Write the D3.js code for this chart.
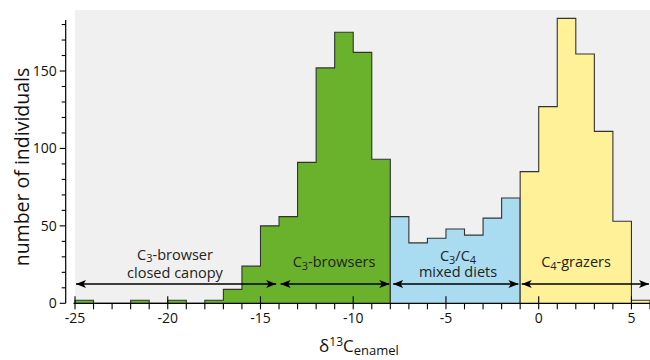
<!DOCTYPE html>
<html><head><meta charset="utf-8">
<script src="https://cdn.jsdelivr.net/npm/d3@7"></script>
<style>body{margin:0;background:#fff}svg{display:block;font-family:"Open Sans",sans-serif}</style>
</head><body>
<svg id="c" width="650" height="360"></svg>
<script>
// bin start values (1-unit bins) and counts
const greenStart = -25;
const greenCounts = [2,0,0,2,0,2,0,2,9,24,50,56,91,152,175,162,93];
const blueStart = -8;
const blueCounts = [56,39,42,48,44,55,68];
const yellowStart = -1;
const yellowCounts = [85,127,184,161,111,53,2];
const xMajorTicks = [-25,-20,-15,-10,-5,0,5];
const yMajorTicks = [0,50,100,150];
const groups = [
  {name:"green", start:greenStart, counts:greenCounts, fill:"#6ab22c"},
  {name:"blue", start:blueStart, counts:blueCounts, fill:"#a9dcf0"},
  {name:"yellow", start:yellowStart, counts:yellowCounts, fill:"#fef197"}
];
const arrows = [
  {from:-25, to:-14.1, lines:[[["C","3"],"-browser"],["closed canopy"]], cx:175, y:[259.5,277.5]},
  {from:-13.97, to:-8, lines:[[["C","3"],"-browsers"]], cx:334, y:[267.3]},
  {from:-7.9, to:-1.04, lines:[[["C","3"],"/",["C","4"]],["mixed diets"]], cx:458, y:[261,276.7]},
  {from:-0.97, to:6, lines:[[["C","4"],"-grazers"]], cx:576, y:[267.3]}
];

const svg = d3.select("#c");
const x = d3.scaleLinear().domain([-25,6]).range([75,650]);
const y = d3.scaleLinear().domain([0,183]).range([303.3,19.9]);

svg.append("rect").attr("x",x(-25)).attr("y",10).attr("width",x(6)-x(-25)).attr("height",y(0)-10).attr("fill","#f0f0f0");

const line = d3.line().x(d=>x(d[0])).y(d=>y(d[1]));
groups.forEach(g=>{
  const bins = g.counts.map((v,i)=>({x0:g.start+i, x1:g.start+i+1, v}));
  const pts = [[bins[0].x0,0]];
  bins.forEach(b=>{pts.push([b.x0,b.v]);pts.push([b.x1,b.v]);});
  pts.push([bins[bins.length-1].x1,0]);
  svg.append("path").attr("d",line(pts)+"Z").attr("fill",g.fill).attr("stroke","none");
  svg.append("path").attr("d",line(pts)).attr("fill","none").attr("stroke","#333").attr("stroke-width",1.1).attr("stroke-linejoin","miter");
});

// y axis
const ya = svg.append("g").attr("transform","translate(65.7,0)");
ya.append("line").attr("x1",0).attr("x2",0).attr("y1",y(183)).attr("y2",y(0)).attr("stroke","#000").attr("stroke-width",1.2);
ya.selectAll("line.t").data(d3.range(0,181,10)).join("line").attr("class","t")
  .attr("x1",d=>yMajorTicks.includes(d)?-6:-4).attr("x2",0).attr("y1",d=>y(d)).attr("y2",d=>y(d)).attr("stroke","#000").attr("stroke-width",1.1);
ya.selectAll("text").data(yMajorTicks).join("text").attr("x",-9).attr("y",d=>y(d)).attr("dy","0.36em")
  .attr("text-anchor","end").attr("font-size",14).attr("fill","#111").text(d=>d);

// x axis
const xa = svg.append("g").attr("transform","translate(0,303.3)");
xa.append("line").attr("x1",73.5).attr("x2",650).attr("stroke","#000").attr("stroke-width",1.2);
xa.selectAll("line.m").data(d3.range(-25,7,1)).join("line").attr("class","m")
  .attr("x1",d=>x(d)).attr("x2",d=>x(d)).attr("y1",d=>xMajorTicks.includes(d)?-7:0).attr("y2",6).attr("stroke","#000").attr("stroke-width",1.1);
xa.selectAll("text").data(xMajorTicks).join("text").attr("x",d=>x(d)).attr("y",20)
  .attr("text-anchor","middle").attr("font-size",14).attr("fill","#111").text(d=>d);

// axis titles
svg.append("text").attr("transform","translate(29,167) rotate(-90)").attr("text-anchor","middle")
  .attr("font-size",19.5).attr("fill","#111").text("number of individuals");
const xt = svg.append("text").attr("x",359).attr("y",352).attr("text-anchor","middle").attr("font-size",17).attr("fill","#111");
xt.append("tspan").text("δ");
xt.append("tspan").attr("font-size",12).attr("dy",-6).text("13");
xt.append("tspan").attr("dy",6).text("C");
xt.append("tspan").attr("font-size",13).attr("dy",2.5).text("enamel");

// arrows
const defs = svg.append("defs");
defs.append("marker").attr("id","ah").attr("viewBox","0 0 10 8").attr("refX",10).attr("refY",4)
  .attr("markerWidth",10).attr("markerHeight",8).attr("markerUnits","userSpaceOnUse").attr("orient","auto-start-reverse")
  .append("path").attr("d","M0,0 L10,4 L0,8 L2.5,4 Z").attr("fill","#000");
arrows.forEach(a=>{
  svg.append("line").attr("x1",x(a.from)+1).attr("x2",x(a.to)-1).attr("y1",284).attr("y2",284)
    .attr("stroke","#000").attr("stroke-width",1.3).attr("marker-start","url(#ah)").attr("marker-end","url(#ah)");
  a.lines.forEach((ln,i)=>{
    const t = svg.append("text").attr("x",a.cx).attr("y",a.y[i]).attr("text-anchor","middle").attr("font-size",14.5).attr("fill","#222");
    let lowered = false;
    ln.forEach(part=>{
      if(Array.isArray(part)){
        t.append("tspan").attr("dy",lowered?-2.5:0).text(part[0]);
        t.append("tspan").attr("font-size",11).attr("dy",2.5).text(part[1]);
        lowered = true;
      } else {
        t.append("tspan").attr("dy",lowered?-2.5:0).text(part);
        lowered = false;
      }
    });
  });
});
</script>
</body></html>
